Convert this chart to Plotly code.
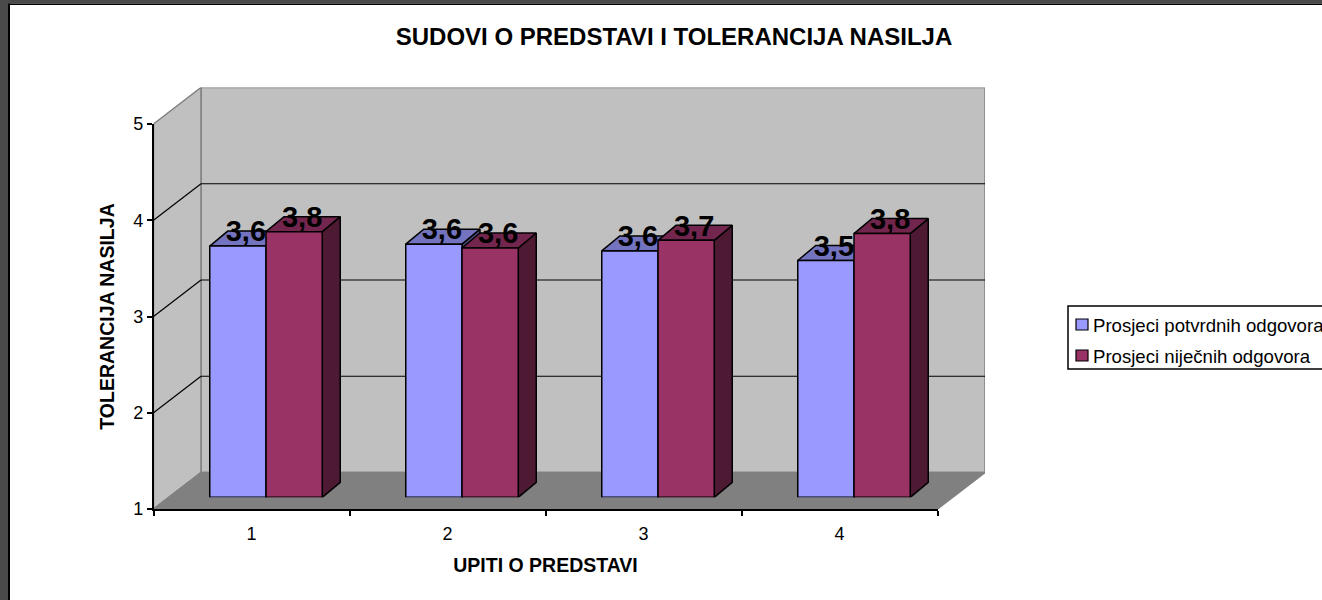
import plotly.graph_objects as go

TITLE = "SUDOVI O PREDSTAVI I TOLERANCIJA NASILJA"
X_TITLE = "UPITI O PREDSTAVI"
Y_TITLE = "TOLERANCIJA NASILJA"
CATEGORIES = ["1", "2", "3", "4"]
Y_TICKS = [1, 2, 3, 4, 5]
GRID_VALUES = [2, 3, 4]
SERIES_A = "Prosjeci potvrdnih odgovora"
SERIES_B = "Prosjeci niječnih odgovora"
VALUES_A = [3.61, 3.63, 3.56, 3.46]
VALUES_B = [3.76, 3.59, 3.67, 3.74]
LABELS_A = ["3,6", "3,6", "3,6", "3,5"]
LABELS_B = ["3,8", "3,6", "3,7", "3,8"]

W, H = 1322, 600
FONT = "Liberation Sans, Arial, sans-serif"
BLUE, BLUE_TOP, BLUE_SIDE = "#9999FF", "#7373BF", "#4D4D80"
RED, RED_TOP, RED_SIDE = "#993366", "#73264D", "#4D1933"
WALL, FLOOR, EDGE = "#C0C0C0", "#808080", "#808080"

# pixel geometry of the 3D frame
FX0, FX1, FY0, FY1 = 153.5, 937.5, 509, 124   # front plane
DEPTH_X, DEPTH_Y = 47.5, 36.5               # plot depth in px
BAR_SHIFT_X, BAR_SHIFT_Y = 14.5, 11.7       # bars sit inside the depth
BAR_DX_PX, BAR_DY_PX = 18, 15             # bar depth
UX = (FX1 - FX0) / 4
UY = (FY0 - FY1) / 4
DX, DY = DEPTH_X / UX, DEPTH_Y / UY
BDX, BDY = BAR_DX_PX / UX, BAR_DY_PX / UY
BAR_W = 56.25 / UX


def px(x):
    return x / W


def py(y):
    return 1 - y / H


x_pos = list(range(1, len(CATEGORIES) + 1))
fig = go.Figure()

# ---- subplot 1: walls and floor (shapes in axis units)
x0, x1, y0, y1 = 0.5, 4.5, Y_TICKS[0], Y_TICKS[-1]
shapes = []


def poly(xs, ys, fill, line, xref="x", yref="y", width=1.5):
    path = "M " + " L ".join(f"{a},{b}" for a, b in zip(xs, ys)) + " Z"
    return dict(type="path", path=path, xref=xref, yref=yref, fillcolor=fill,
                line=dict(color=line, width=width), layer="below")


def seg(xa, ya, xb, yb, color, width=1.2):
    return dict(type="line", x0=xa, y0=ya, x1=xb, y1=yb, xref="x", yref="y",
                line=dict(color=color, width=width), layer="below")


shapes.append(poly([x0 + DX, x1 + DX, x1 + DX, x0 + DX], [y0 + DY, y0 + DY, y1 + DY, y1 + DY], WALL, EDGE))
shapes.append(poly([x0, x0 + DX, x0 + DX, x0], [y0, y0 + DY, y1 + DY, y1], WALL, EDGE))
shapes.append(poly([x0, x1, x1 + DX, x0 + DX], [y0, y0, y0 + DY, y0 + DY], FLOOR, EDGE))
for g in GRID_VALUES:
    shapes.append(seg(x0, g, x0 + DX, g + DY, "#000000"))
    shapes.append(seg(x0 + DX, g + DY, x1 + DX, g + DY, "#000000"))

fig.add_trace(go.Scatter(x=[x0], y=[y0], mode="none", showlegend=False, hoverinfo="skip", xaxis="x", yaxis="y"))

# ---- subplot 2: the front axes
fig.add_trace(go.Scatter(x=CATEGORIES, y=[y0] * 4, mode="none", showlegend=False, hoverinfo="skip",
                         xaxis="x2", yaxis="y2"))


# ---- subplot 3: top and side faces, derived from the values
def faces(values, offset):
    tx, ty, sx, sy = [], [], [], []
    for p, v in zip(x_pos, values):
        l = p + offset - BAR_W / 2
        r = p + offset + BAR_W / 2
        tx += [l, r, r + BDX, l + BDX, l, None]
        ty += [v, v, v + BDY, v + BDY, v, None]
        sx += [r, r + BDX, r + BDX, r, r, None]
        sy += [y0, y0 + BDY, v + BDY, v, y0, None]
    return tx, ty, sx, sy


for values, offset, top, side in [(VALUES_A, -BAR_W / 2, BLUE_TOP, BLUE_SIDE), (VALUES_B, BAR_W / 2, RED_TOP, RED_SIDE)]:
    tx, ty, sx, sy = faces(values, offset)
    for fx, fy, col in [(sx, sy, side), (tx, ty, top)]:
        fig.add_trace(go.Scatter(x=fx, y=fy, mode="lines", fill="toself", fillcolor=col,
                                 line=dict(color="#000000", width=1.5), showlegend=False,
                                 hoverinfo="skip", cliponaxis=False, xaxis="x3", yaxis="y3"))

# ---- subplot 4: bar fronts and labels
for name, values, col in [(SERIES_A, VALUES_A, BLUE), (SERIES_B, VALUES_B, RED)]:
    fig.add_trace(go.Bar(x=x_pos, y=values, name=name, marker=dict(color=col, line=dict(color="#000000", width=1.5)),
                         showlegend=False, xaxis="x4", yaxis="y4"))
base_x, base_y = [], []
for p in x_pos:
    base_x += [p - BAR_W, p + BAR_W, None]
    base_y += [y0, y0, None]
fig.add_trace(go.Scatter(x=base_x, y=base_y, mode="lines", line=dict(color="#000000", width=1.5),
                         showlegend=False, hoverinfo="skip", cliponaxis=False, xaxis="x4", yaxis="y4"))
LABEL_DX = 8 / UX
LABEL_DY = 12 / UY
for values, labels, offset in [(VALUES_A, LABELS_A, -BAR_W / 2), (VALUES_B, LABELS_B, BAR_W / 2)]:
    fig.add_trace(go.Scatter(x=[p + offset + LABEL_DX for p in x_pos], y=[v + LABEL_DY for v in values],
                             mode="text", text=[f"<b>{t}</b>" for t in labels], textposition="middle center",
                             textfont=dict(family=FONT, size=29, color="#000000"), showlegend=False,
                             hoverinfo="skip", cliponaxis=False, xaxis="x4", yaxis="y4"))

# ---- page frame
frame = [
    (0, 0, 8, H, "#4A4A4A"), (0, 0, W, 3.4, "#4A4A4A"),
    (8, 3.4, 10, H, "#000000"), (8, 3.4, W, 5, "#000000"),
]
for a, b, c, d, col in frame:
    shapes.append(dict(type="rect", xref="paper", yref="paper", x0=px(a), x1=px(c), y0=py(b), y1=py(d),
                       fillcolor=col, line=dict(width=0), layer="below"))

# ---- legend
shapes.append(dict(type="rect", xref="paper", yref="paper", x0=px(1068), x1=px(1340), y0=py(306), y1=py(369),
                   fillcolor="#FFFFFF", line=dict(color="#000000", width=1.5), layer="above"))
annotations = []
for name, col, yc in [(SERIES_A, BLUE, 325), (SERIES_B, RED, 356)]:
    shapes.append(dict(type="rect", xref="paper", yref="paper", x0=px(1076), x1=px(1088), y0=py(yc - 6), y1=py(yc + 5),
                       fillcolor=col, line=dict(color="#000000", width=1.2), layer="above"))
    annotations.append(dict(text=name, xref="paper", yref="paper", x=px(1091), y=py(yc), xanchor="left", yanchor="middle",
                            showarrow=False, font=dict(family=FONT, size=18.6, color="#000000")))

hidden = dict(visible=False, fixedrange=True)
fig.update_layout(
    width=W, height=H, margin=dict(l=0, r=0, t=0, b=0, autoexpand=False),
    paper_bgcolor="#FFFFFF", plot_bgcolor="rgba(0,0,0,0)", showlegend=False,
    font=dict(family=FONT, size=18, color="#000000"),
    title=dict(text=f"<b>{TITLE}</b>", x=px(674), y=py(37), xref="paper", yref="paper", xanchor="center", yanchor="middle",
               font=dict(family=FONT, size=24, color="#000000")),
    barmode="group", bargap=1 - 2 * BAR_W, bargroupgap=0,
    shapes=shapes, annotations=annotations,
    xaxis=dict(domain=[px(FX0), px(FX1 + DEPTH_X)], range=[x0, x1 + DX], anchor="y", **hidden),
    yaxis=dict(domain=[py(FY0), py(FY1 - DEPTH_Y)], range=[y0, y1 + DY], anchor="x", **hidden),
    xaxis2=dict(domain=[px(FX0), px(FX1)], type="category", categoryarray=CATEGORIES, categoryorder="array",
                range=[-0.5, 3.5], tickson="boundaries", ticks="outside", ticklen=5, tickwidth=1.5, tickcolor="#000000",
                showline=True, linecolor="#000000", linewidth=1.5, showgrid=False, zeroline=False,
                anchor="y2", ticklabelstandoff=8, tickfont=dict(size=18),
                title=dict(text=f"<b>{X_TITLE}</b>", font=dict(size=19.5), standoff=15)),
    yaxis2=dict(domain=[py(FY0), py(FY1)], range=[y0, y1], tickvals=Y_TICKS, ticks="outside", ticklen=5,
                tickwidth=1.5, tickcolor="#000000", showline=True, linecolor="#000000", linewidth=1.5,
                showgrid=False, zeroline=False, anchor="x2", tickfont=dict(size=18),
                title=dict(text=f"<b>{Y_TITLE}</b>", font=dict(size=19.5), standoff=13)),
    xaxis3=dict(domain=[px(FX0 + BAR_SHIFT_X), px(FX1 + BAR_SHIFT_X)], range=[x0, x1], anchor="y3", **hidden),
    yaxis3=dict(domain=[py(FY0 - BAR_SHIFT_Y), py(FY1 - BAR_SHIFT_Y)], range=[y0, y1], anchor="x3", **hidden),
    xaxis4=dict(domain=[px(FX0 + BAR_SHIFT_X), px(FX1 + BAR_SHIFT_X)], range=[x0, x1], anchor="y4", **hidden),
    yaxis4=dict(domain=[py(FY0 - BAR_SHIFT_Y), py(FY1 - BAR_SHIFT_Y)], range=[y0, y1], anchor="x4", **hidden),
)

fig.write_html("out.html", config=dict(displayModeBar=False),
               post_script="document.body.style.margin='0';document.body.style.overflow='hidden';")
